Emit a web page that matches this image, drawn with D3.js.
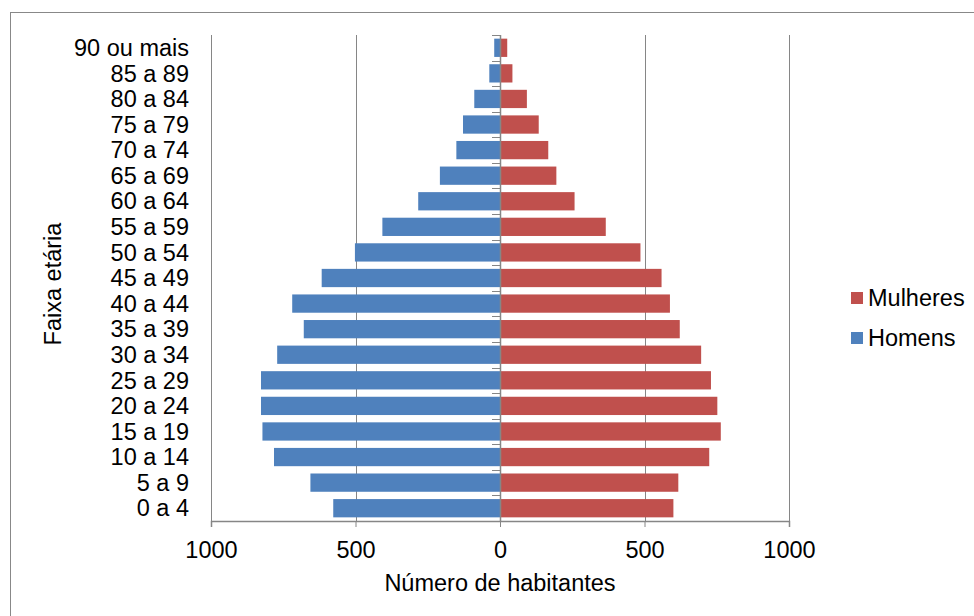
<!DOCTYPE html>
<html lang="pt">
<head>
<meta charset="UTF-8">
<title>Pirâmide etária</title>
<script src="https://d3js.org/d3.v7.min.js"></script>
<style>
  body { margin: 0; background: #fff; }
  svg { display: block; font-family: "Liberation Sans", Arial, sans-serif; }
  .lbl { font-size: 23.5px; fill: #000; }
</style>
</head>
<body>
<svg id="chart" width="974" height="616"></svg>
<script>
'use strict';

// age groups, bottom to top
const faixas = ['0 a 4', '5 a 9', '10 a 14', '15 a 19', '20 a 24', '25 a 29', '30 a 34',
    '35 a 39', '40 a 44', '45 a 49', '50 a 54', '55 a 59', '60 a 64', '65 a 69',
    '70 a 74', '75 a 79', '80 a 84', '85 a 89', '90 ou mais'];
const homens = [577, 656, 782, 822, 827, 827, 771, 679, 719, 617, 502, 407, 283, 208, 151, 128, 89, 37, 20];
const mulheres = [600, 617, 724, 764, 752, 730, 696, 622, 588, 559, 486, 366, 258, 195, 167, 134, 93, 43, 25];
const xTicks = [-1000, -500, 0, 500, 1000];

const azul = '#4f81bd', vermelho = '#c0504d', cinza = '#868686';

const svg = d3.select('#chart');

// outer frame
svg.append('rect')
    .attr('x', 10.5).attr('y', 12.5)
    .attr('width', 1000).attr('height', 700)
    .attr('fill', 'none').attr('stroke', '#888').attr('stroke-width', 1);

const x = d3.scaleLinear().domain([-1000, 1000]).range([211, 789]);
const y = d3.scaleBand()
    .domain(faixas.slice().reverse())
    .range([35, 521])
    .paddingInner(0.2857)
    .paddingOuter(0.1429);

// vertical gridlines
svg.append('g').selectAll('line')
    .data(xTicks.filter(d => d !== 0))
    .enter().append('line')
    .attr('x1', d => Math.round(x(d)) + 0.5)
    .attr('x2', d => Math.round(x(d)) + 0.5)
    .attr('y1', 35).attr('y2', 521)
    .attr('stroke', cinza).attr('stroke-width', 1);

// bars
svg.append('g').selectAll('rect')
    .data(faixas.map((f, i) => ({ f, v: homens[i] })))
    .enter().append('rect')
    .attr('x', d => x(-d.v))
    .attr('y', d => y(d.f))
    .attr('width', d => x(0) - x(-d.v))
    .attr('height', y.bandwidth())
    .attr('fill', azul);

svg.append('g').selectAll('rect')
    .data(faixas.map((f, i) => ({ f, v: mulheres[i] })))
    .enter().append('rect')
    .attr('x', x(0))
    .attr('y', d => y(d.f))
    .attr('width', d => x(d.v) - x(0))
    .attr('height', y.bandwidth())
    .attr('fill', vermelho);

// category axis at zero, ticks pointing left at band boundaries
const bounds = d3.range(faixas.length + 1).map(i => 35 + i * (486 / faixas.length));
svg.append('g').selectAll('line')
    .data(bounds)
    .enter().append('line')
    .attr('x1', x(0) - 8).attr('x2', x(0))
    .attr('y1', d => Math.round(d) + 0.5).attr('y2', d => Math.round(d) + 0.5)
    .attr('stroke', cinza);
svg.append('line')
    .attr('x1', Math.round(x(0)) + 0.5).attr('x2', Math.round(x(0)) + 0.5)
    .attr('y1', 35).attr('y2', 521)
    .attr('stroke', cinza).attr('stroke-width', 1.5);

// category labels
svg.append('g').selectAll('text')
    .data(faixas)
    .enter().append('text')
    .attr('class', 'lbl')
    .attr('x', 189)
    .attr('y', d => y(d) + y.bandwidth() / 2)
    .attr('dy', '0.35em')
    .attr('text-anchor', 'end')
    .text(d => d);

// x axis
const xAxis = svg.append('g')
    .attr('transform', 'translate(0,521)')
    .call(d3.axisBottom(x).tickValues(xTicks).tickSize(6).tickFormat(d => Math.abs(d)));
xAxis.select('.domain').attr('stroke', cinza).attr('stroke-width', 1.5);
xAxis.selectAll('.tick line').attr('stroke', cinza);
xAxis.selectAll('.tick text')
    .attr('class', 'lbl')
    .attr('y', 20).attr('dy', '0.71em')
    .attr('fill', '#000');

// axis titles
svg.append('text').attr('class', 'lbl')
    .attr('x', 500).attr('y', 591)
    .attr('text-anchor', 'middle')
    .text('Número de habitantes');

svg.append('text').attr('class', 'lbl')
    .attr('transform', 'translate(61,284) rotate(-90)')
    .attr('text-anchor', 'middle')
    .text('Faixa etária');

// legend
const legenda = [{ nome: 'Mulheres', cor: vermelho }, { nome: 'Homens', cor: azul }];
const lg = svg.append('g').selectAll('g')
    .data(legenda)
    .enter().append('g')
    .attr('transform', (d, i) => `translate(851,${298 + i * 40})`);
lg.append('rect').attr('x', 0).attr('y', -6).attr('width', 12).attr('height', 12).attr('fill', d => d.cor);
lg.append('text').attr('class', 'lbl').attr('x', 17).attr('dy', '0.35em').text(d => d.nome);
</script>
</body>
</html>
